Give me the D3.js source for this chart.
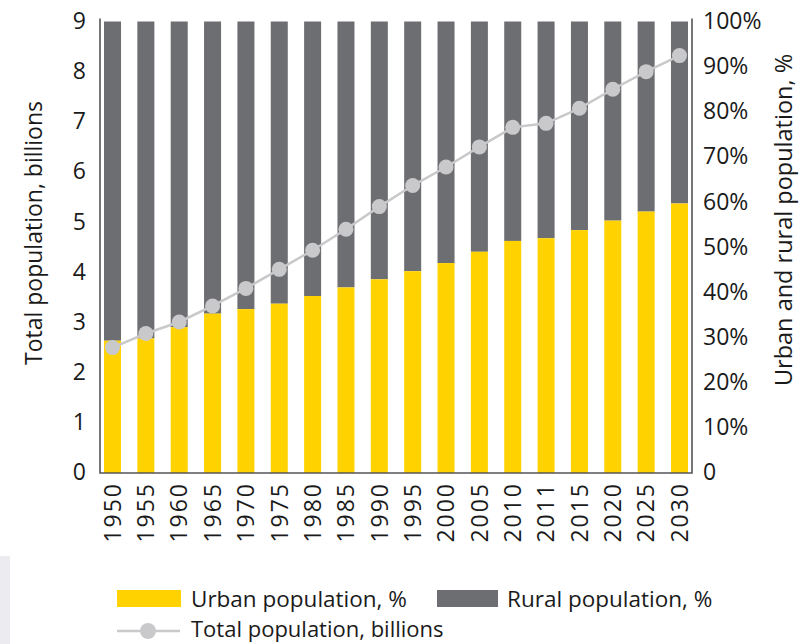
<!DOCTYPE html>
<html>
<head>
<meta charset="utf-8">
<script src="https://cdn.jsdelivr.net/npm/d3@7"></script>
<style>
  body { margin: 0; background: #fff; }
  text { font-family: "Open Sans", sans-serif; fill: #1a1a1a; }
</style>
</head>
<body>
<div id="chart"></div>
<script>
// Data
var years = ["1950", "1955", "1960", "1965", "1970", "1975", "1980", "1985", "1990",
             "1995", "2000", "2005", "2010", "2011", "2015", "2020", "2025", "2030"];
var urbanPct = [29.3, 29.8, 32.3, 35.3, 36.3, 37.5, 39.2, 41.1, 42.9,
                44.7, 46.5, 49.0, 51.4, 52.0, 53.8, 55.9, 57.9, 59.7];
var totalPop = [2.50, 2.78, 3.01, 3.33, 3.68, 4.06, 4.44, 4.86, 5.31,
                5.73, 6.10, 6.50, 6.89, 6.97, 7.27, 7.65, 8.00, 8.32];
var leftTicks = [0, 1, 2, 3, 4, 5, 6, 7, 8, 9];
var rightTicks = [0, 10, 20, 30, 40, 50, 60, 70, 80, 90, 100];

drawChart();

function drawChart() {
  var W = 805, H = 644;
  var mLeft = 100, mRight = 692, mTop = 21.5, mBottom = 473;

  var yellow = "#ffd200", grey = "#6d6e71", dotCol = "#c9c9cb", axisCol = "#555558";

  var svg = d3.select("#chart").append("svg")
    .attr("width", W).attr("height", H);

  // faint page edge at the bottom left
  svg.append("rect").attr("x", 0).attr("y", 556).attr("width", 10).attr("height", 88)
    .attr("fill", "#ececf0");

  var x = d3.scaleBand().domain(years).range([mLeft, mRight])
    .paddingInner(0.49).paddingOuter(0.12);
  var yPct = d3.scaleLinear().domain([0, 100]).range([mBottom, mTop]);
  var yPop = d3.scaleLinear().domain([0, 9]).range([mBottom, mTop]);

  // rural (grey) part of each bar, then urban (yellow) below it
  svg.selectAll(".rural").data(years).enter().append("rect")
    .attr("class", "rural")
    .attr("x", function(d) { return x(d); })
    .attr("y", yPct(100))
    .attr("width", x.bandwidth())
    .attr("height", function(d, i) { return yPct(urbanPct[i]) - yPct(100); })
    .attr("fill", grey);

  svg.selectAll(".urban").data(years).enter().append("rect")
    .attr("class", "urban")
    .attr("x", function(d) { return x(d); })
    .attr("y", function(d, i) { return yPct(urbanPct[i]); })
    .attr("width", x.bandwidth())
    .attr("height", function(d, i) { return yPct(0) - yPct(urbanPct[i]); })
    .attr("fill", yellow);

  // axes
  var axL = d3.axisLeft(yPop).tickValues(leftTicks).tickSize(0).tickPadding(14);
  var gL = svg.append("g").attr("transform", "translate(" + mLeft + ",0)").call(axL);
  var axR = d3.axisRight(yPct).tickValues(rightTicks).tickSize(0).tickPadding(11)
    .tickFormat(function(d) { return d === 0 ? "0" : d + "%"; });
  var gR = svg.append("g").attr("transform", "translate(" + mRight + ",0)").call(axR);
  var axB = d3.axisBottom(x).tickSize(0).tickPadding(9);
  var gB = svg.append("g").attr("transform", "translate(0," + mBottom + ")").call(axB);

  [gL, gR, gB].forEach(function(g) {
    g.select(".domain").remove();
    g.selectAll("text").style("font-size", "23px").attr("fill", "#1a1a1a")
      .style("font-family", "'Open Sans', sans-serif");
  });
  gL.selectAll("text").attr("dy", "0.3em");
  gR.selectAll("text").attr("dy", "0.3em");
  gB.selectAll("text")
    .attr("transform", "rotate(-90)")
    .attr("text-anchor", "end")
    .attr("x", -9).attr("y", 0).attr("dy", "0.36em")
    .style("letter-spacing", "2px");

  // axis lines
  svg.append("path")
    .attr("d", "M" + mLeft + "," + (mTop - 3) + "V" + mBottom + "H" + mRight + "V" + (mTop - 3))
    .attr("fill", "none").attr("stroke", axisCol).attr("stroke-width", 1.6);

  // total population line
  var line = d3.line()
    .x(function(d, i) { return x(years[i]) + x.bandwidth() / 2; })
    .y(function(d) { return yPop(d); });

  svg.append("path").datum(totalPop)
    .attr("d", line)
    .attr("fill", "none").attr("stroke", dotCol).attr("stroke-width", 2.5);

  svg.selectAll(".dot").data(totalPop).enter().append("circle")
    .attr("cx", function(d, i) { return x(years[i]) + x.bandwidth() / 2; })
    .attr("cy", function(d) { return yPop(d); })
    .attr("r", 7.5)
    .attr("fill", dotCol);

  // axis titles
  svg.append("text")
    .attr("transform", "translate(42,233) rotate(-90)")
    .attr("text-anchor", "middle")
    .style("font-size", "23px")
    .text("Total population, billions");

  svg.append("text")
    .attr("transform", "translate(792,220) rotate(-90)")
    .attr("text-anchor", "middle")
    .style("font-size", "23.5px")
    .text("Urban and rural population, %");

  // legend
  var lg = svg.append("g").style("font-size", "22.5px");
  lg.append("rect").attr("x", 117).attr("y", 590).attr("width", 64).attr("height", 17).attr("fill", yellow);
  lg.append("text").attr("x", 191).attr("y", 599).attr("dy", "0.35em")
    .text("Urban population, %");
  lg.append("rect").attr("x", 437).attr("y", 590).attr("width", 61).attr("height", 17).attr("fill", grey);
  lg.append("text").attr("x", 507).attr("y", 599).attr("dy", "0.35em")
    .text("Rural population, %");
  lg.append("line").attr("x1", 117).attr("x2", 180).attr("y1", 631).attr("y2", 631)
    .attr("stroke", dotCol).attr("stroke-width", 2.5);
  lg.append("circle").attr("cx", 148).attr("cy", 631).attr("r", 8).attr("fill", dotCol);
  lg.append("text").attr("x", 191).attr("y", 629).attr("dy", "0.35em")
    .style("font-size", "22px")
    .text("Total population, billions");
}
</script>
</body>
</html>
